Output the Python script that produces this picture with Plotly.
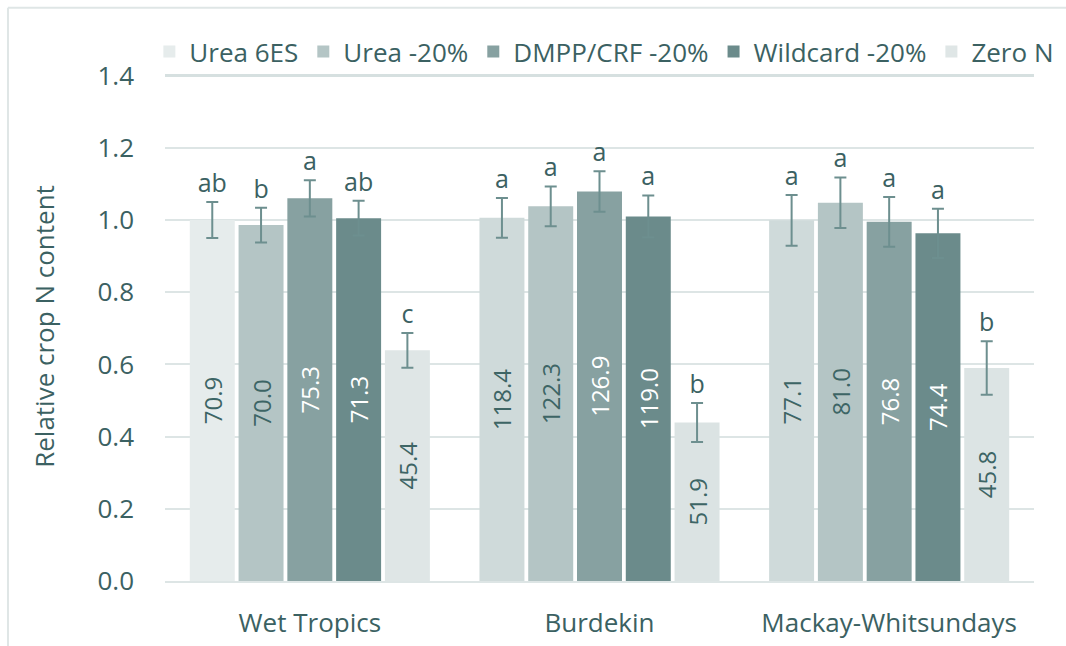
import plotly.graph_objects as go

regions = ["Wet Tropics", "Burdekin", "Mackay-Whitsundays"]
series = ["Urea 6ES", "Urea -20%", "DMPP/CRF -20%", "Wildcard -20%", "Zero N"]

rel_n = {
    "Urea 6ES":      [1.000, 1.006, 0.999],
    "Urea -20%":     [0.986, 1.038, 1.048],
    "DMPP/CRF -20%": [1.060, 1.079, 0.995],
    "Wildcard -20%": [1.005, 1.010, 0.963],
    "Zero N":        [0.639, 0.439, 0.590],
}
err = {
    "Urea 6ES":      [0.050, 0.055, 0.070],
    "Urea -20%":     [0.048, 0.055, 0.070],
    "DMPP/CRF -20%": [0.050, 0.056, 0.069],
    "Wildcard -20%": [0.048, 0.058, 0.068],
    "Zero N":        [0.048, 0.054, 0.074],
}
n_uptake = {
    "Urea 6ES":      ["70.9", "118.4", "77.1"],
    "Urea -20%":     ["70.0", "122.3", "81.0"],
    "DMPP/CRF -20%": ["75.3", "126.9", "76.8"],
    "Wildcard -20%": ["71.3", "119.0", "74.4"],
    "Zero N":        ["45.4", "51.9", "45.8"],
}
letters = {
    "Urea 6ES":      ["ab", "a", "a"],
    "Urea -20%":     ["b", "a", "a"],
    "DMPP/CRF -20%": ["a", "a", "a"],
    "Wildcard -20%": ["ab", "a", "a"],
    "Zero N":        ["c", "b", "b"],
}
y_max_tick = 1.4

# styles
bar_colors = {
    "Urea 6ES":      ["#e6ecec", "#cfdada", "#cfdada"],
    "Urea -20%":     ["#b4c5c5", "#b4c5c5", "#b4c5c5"],
    "DMPP/CRF -20%": ["#87a1a1", "#87a1a1", "#87a1a1"],
    "Wildcard -20%": ["#6b8b8b", "#6b8b8b", "#6b8b8b"],
    "Zero N":        ["#dfe6e6", "#dbe3e3", "#dce4e4"],
}
label_colors = {
    "Urea 6ES": "#3d6565", "Urea -20%": "#3d6565",
    "DMPP/CRF -20%": "#ffffff", "Wildcard -20%": "#ffffff", "Zero N": "#3d6565",
}
TXT = "#3b6162"
GRID = "#dde5e5"
FONT = "Open Sans"

fig = go.Figure()
for i, s in enumerate(series):
    fig.add_trace(go.Bar(
        name=s, x=regions, y=rel_n[s], offsetgroup=str(i),
        marker=dict(color=bar_colors[s], line=dict(width=0)),
        error_y=dict(type="data", array=err[s], color="#6d8f8f", thickness=2, width=6),
        text=n_uptake[s], textposition="inside", textangle=-90,
        insidetextanchor="middle", constraintext="none",
        insidetextfont=dict(family=FONT, size=24, color=label_colors[s]),
        hoverinfo="skip",
    ))
for i, s in enumerate(series):
    tops = [v + e for v, e in zip(rel_n[s], err[s])]
    fig.add_trace(go.Bar(
        x=regions, y=[0.0001] * len(regions), base=tops, offsetgroup=str(i),
        marker=dict(color="rgba(0,0,0,0)", line=dict(width=0)), showlegend=False,
        text=letters[s], textposition="outside", textangle=0, constraintext="none",
        outsidetextfont=dict(family=FONT, size=25, color=TXT),
        cliponaxis=False, hoverinfo="skip",
    ))

fig.update_layout(
    template="none",
    width=1066, height=646,
    margin=dict(l=165, r=32, t=72, b=65, autoexpand=False),
    paper_bgcolor="white", plot_bgcolor="white",
    barmode="group", bargap=0.158, bargroupgap=0.078,
    font=dict(family=FONT, size=26, color=TXT),
    legend=dict(orientation="h", x=-0.018, xanchor="left", y=1.04, yanchor="middle",
                font=dict(size=26, color=TXT), itemwidth=30, traceorder="normal",
                bgcolor="rgba(0,0,0,0)", borderwidth=0),
    showlegend=True,
    shapes=[
        dict(type="line", xref="paper", yref="paper", x0=-0.1807, x1=1.1, y0=1.126, y1=1.126,
             line=dict(color="#dfe6e6", width=2)),
        dict(type="line", xref="paper", yref="paper", x0=-0.1807, x1=-0.1807, y0=1.126, y1=-0.2,
             line=dict(color="#dfe6e6", width=2)),
        dict(type="line", xref="paper", yref="y", x0=0, x1=1, y0=y_max_tick, y1=y_max_tick,
             line=dict(color="#d6e0e0", width=3), layer="above"),
    ],
)
fig.update_yaxes(range=[0, 1.41], dtick=0.2, tick0=0, tickformat=".1f", showgrid=True,
                 gridcolor=GRID, gridwidth=2, zeroline=False, showline=False,
                 ticks="", ticklabelstandoff=30, automargin=False,
                 title=dict(text="Relative crop N content", standoff=35, font=dict(size=26)))
fig.update_xaxes(showline=True, linecolor=GRID, linewidth=2, ticks="", showgrid=False,
                 ticklabelstandoff=18, automargin=False)

fig.write_html("out.html", config={"displayModeBar": False},
               post_script="document.body.style.margin='0';document.body.style.overflow='hidden';")
